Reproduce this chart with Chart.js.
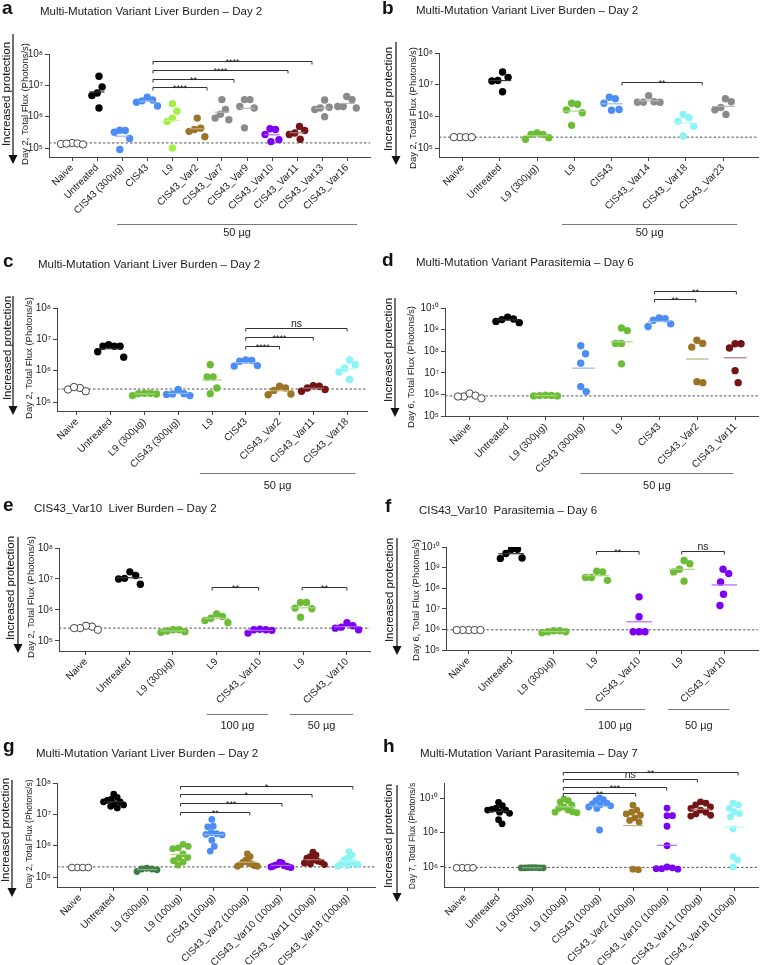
<!DOCTYPE html>
<html>
<head>
<meta charset="utf-8">
<script src="https://cdn.jsdelivr.net/npm/chart.js@4.4.1/dist/chart.umd.min.js"></script>
<style>
  html, body { margin: 0; padding: 0; background: #fff; }
  #wrap { position: relative; width: 763px; height: 965px; overflow: hidden; background: #fff; }
  #wrap canvas { position: absolute; }
</style>
</head>
<body>
<div id="wrap"></div>
<script>
// ---------- data ----------
const protText = 'Increased protection';

// a
const titleA = 'Multi-Mutation Variant Liver Burden \u2013 Day 2';
const yTitleA = 'Day 2, Total Flux (Photons/s)';
const catsA = ['Naive', 'Untreated', 'CIS43 (300µg)', 'CIS43', 'L9', 'CIS43_Var2', 'CIS43_Var7',
  'CIS43_Var9', 'CIS43_Var10', 'CIS43_Var11', 'CIS43_Var13', 'CIS43_Var16'];
const valsA = [
  [1.35e5, 1.45e5, 1.4e5, 1.3e5, 1.38e5],
  [5.7e6, 1.95e7, 1.9e6, 4.7e6, 8.9e6],
  [3.6e5, 2.0e5, 3.7e5, 0.9e5, 3.2e5],
  [2.2e6, 4.2e6, 3.2e6, 2.9e6, 3.4e6],
  [9e5, 1.0e5, 2.6e6, 7e5, 1.5e6],
  [2.3e5, 4.3e5, 9e5, 3.9e5, 3.4e5],
  [1.2e6, 8e5, 3.5e6, 9e5, 1.7e6],
  [2.1e6, 3.5e6, 4.4e5, 1.9e6, 3.5e6],
  [4.1e5, 1.6e5, 2.7e5, 3.9e5, 1.85e5],
  [1.9e5, 3.6e5, 2.7e5, 4.9e5, 3e5],
  [1e6, 2e6, 1.7e6, 3.4e6, 1.9e6],
  [4.4e6, 2.1e6, 1.9e6, 3.5e6, 2.1e6]
];
const lodA = 1.45e5;
const tickExpA = [5, 6, 7, 8];

// b
const titleB = 'Multi-Mutation Variant Liver Burden \u2013 Day 2';
const yTitleB = 'Day 2, Total Flux (Photons/s)';
const catsB = ['Naive', 'Untreated', 'L9 (300µg)', 'L9', 'CIS43', 'CIS43_Var14', 'CIS43_Var18', 'CIS43_Var23'];
const valsB = [
  [2.2e5, 2.2e5, 2.2e5, 2.2e5],
  [1.7e7, 1.35e7, 6e6, 1.3e7, 2.5e7],
  [2.7e5, 2.1e5, 3e5, 2.7e5, 1.9e5],
  [2.4e6, 1.3e6, 2.6e6, 5.2e5, 1.6e6],
  [4e6, 1.55e6, 2.6e6, 3.6e6, 1.65e6],
  [4.5e6, 2.8e6, 2.8e6, 2.9e6, 2.8e6],
  [9e5, 1.15e6, 4.9e5, 2.4e5, 7e5],
  [3.6e6, 1.15e6, 1.9e6, 2.9e6, 1.6e6]
];
const lodB = 2.2e5;
const tickExpB = [5, 6, 7, 8];

// c
const titleC = 'Multi-Mutation Variant Liver Burden \u2013 Day 2';
const yTitleC = 'Day 2, Total Flux (Photons/s)';
const catsC = ['Naive', 'Untreated', 'L9 (300µg)', 'CIS43 (300µg)', 'L9', 'CIS43', 'CIS43_Var2', 'CIS43_Var11', 'CIS43_Var18'];
const valsC = [
  [2.5e5, 2.8e5, 3e5, 2.2e5],
  [6e6, 2.7e6, 6e6, 6e6, 6.8e6, 4e6],
  [1.9e5, 1.9e5, 1.8e5, 1.85e5, 1.6e5],
  [2.5e5, 1.6e5, 1.85e5, 1.75e5, 1.8e5],
  [6.3e5, 1.85e5, 1.55e6, 6.3e5, 2.8e5],
  [1.45e6, 2.2e6, 2.1e6, 1.4e6, 2e6],
  [3.2e5, 1.7e5, 2.8e5, 1.8e5, 2.35e5],
  [2.5e5, 3.3e5, 2.8e5, 3.2e5, 2.2e5],
  [1.55e6, 9e5, 5.2e5, 2.2e6, 1.2e6]
];
const lodC = 2.6e5;
const tickExpC = [5, 6, 7, 8];

// d
const titleD = 'Multi-Mutation Variant Parasitemia \u2013 Day 6';
const yTitleD = 'Day 6, Total Flux (Photons/s)';
const catsD = ['Naive', 'Untreated', 'L9 (300µg)', 'CIS43 (300µg)', 'L9', 'CIS43', 'CIS43_Var2', 'CIS43_Var11'];
const valsD = [
  [8e5, 1.1e6, 8e5, 8.8e5, 6.6e5],
  [2.4e9, 3.8e9, 2.9e9, 3.1e9, 2.1e9],
  [8.5e5, 9e5, 9.2e5, 8.8e5, 8.5e5],
  [1.35e6, 1.8e8, 7.6e7, 2.8e7, 2.3e6],
  [1.2e9, 2.3e8, 2.6e7, 9e8, 2.3e8],
  [3.5e9, 1.4e9, 3.2e9, 1.85e9, 2.7e9],
  [3.2e8, 3.5e6, 1.55e8, 3.9e6, 2.3e8],
  [2.2e8, 1.4e8, 1.26e7, 3.5e6, 2.2e8]
];
const lodD = 8.5e5;
const tickExpD = [5, 6, 7, 8, 9, 10];

// e
const titleE = 'CIS43_Var10  Liver Burden \u2013 Day 2';
const yTitleE = 'Day 2, Total Flux (Photons/s)';
const catsE = ['Naive', 'Untreated', 'L9 (300µg)', 'L9', 'CIS43_Var10', 'L9', 'CIS43_Var10'];
const valsE = [
  [2.9e5, 3.1e5, 2.6e5, 2.6e5, 2.3e5],
  [1.3e7, 6.8e6, 1.05e7, 1.7e7, 1e7],
  [2e5, 2.3e5, 2.3e5, 2.1e5, 1.9e5],
  [7.5e5, 3.9e5, 6.2e5, 4.6e5, 5.4e5],
  [2.2e5, 2.3e5, 2.4e5, 2.3e5, 1.8e5],
  [1.75e6, 1.1e6, 1.75e6, 5.8e5, 1.15e6],
  [2.6e5, 3.9e5, 2.8e5, 3.1e5, 2.3e5]
];
const lodE = 2.6e5;
const tickExpE = [5, 6, 7, 8];

// f
const titleF = 'CIS43_Var10  Parasitemia \u2013 Day 6';
const yTitleF = 'Day 6, Total Flux (Photons/s)';
const catsF = ['Naive', 'Untreated', 'L9 (300µg)', 'L9', 'CIS43_Var10', 'L9', 'CIS43_Var10'];
const valsF = [
  [9.3e5, 9.3e5, 9.3e5, 9.3e5, 9.3e5],
  [7.8e9, 2.8e9, 4.8e9, 7.8e9, 2.9e9],
  [7.7e5, 8.6e5, 8.6e5, 7.7e5, 6.9e5],
  [6.2e8, 2.4e8, 6.6e8, 3.3e8, 3.3e8],
  [7.7e5, 3.8e7, 4.1e6, 7.7e5, 7.7e5],
  [2.2e9, 8.3e8, 2.2e8, 1.55e9, 6.2e8],
  [8.3e8, 2e8, 5.1e7, 1.45e7, 5.1e8]
];
const lodF = 9.5e5;
const tickExpF = [5, 6, 7, 8, 9, 10];

// g
const titleG = 'Multi-Mutation Variant Liver Burden \u2013 Day 2';
const yTitleG = 'Day 2, Total Flux (Photons/s)';
const catsG = ['Naive', 'Untreated', 'L9 (300ug)', 'L9 (100ug)', 'CIS43 (100ug)', 'CIS43_Var2 (100ug)',
  'CIS43_Var10 (100ug)', 'CIS43_Var11 (100ug)', 'CIS43_Var18 (100ug)'];
const valsG = [
  [2e5, 2e5, 2e5, 2e5],
  [4.4e7, 3.5e7, 3e7, 2.8e7, 2.5e7, 2.5e7, 2.2e7, 2e7, 1.8e7, 1.6e7],
  [1.8e5, 1.9e5, 1.7e5, 1.5e5, 1.8e5],
  [1.1e6, 9.5e5, 8e5, 8.5e5, 5.5e5, 4.2e5, 4e5, 3.3e5, 3e5, 2.4e5],
  [6.9e6, 4.2e6, 4e6, 2.6e6, 2.3e6, 2.2e6, 2.4e6, 1.5e6, 9.5e5, 6.7e5],
  [5.5e5, 4.5e5, 3.5e5, 3e5, 2.8e5, 2.6e5, 2.5e5, 2.3e5, 2.2e5, 2.2e5],
  [3e5, 2.8e5, 2.5e5, 2.4e5, 2.3e5, 2.2e5, 2.2e5, 2.1e5, 2.1e5, 2e5],
  [6.2e5, 5e5, 4.5e5, 4e5, 3.5e5, 3.2e5, 3e5, 2.8e5, 2.6e5, 2.5e5],
  [6.5e5, 5e5, 4e5, 3.5e5, 3e5, 2.8e5, 2.6e5, 2.5e5, 2.3e5, 2.2e5]
];
const lodG = 2.1e5;
const tickExpG = [5, 6, 7, 8];

// h
const titleH = 'Multi-Mutation Variant Parasitemia \u2013 Day 7';
const yTitleH = 'Day 7, Total Flux (Photons/s';
const catsH = ['Naive', 'Untreated', 'L9 (300ug)', 'L9 (100ug)', 'CIS43 (100ug)', 'CIS43_Var2 (100ug)',
  'CIS43_Var10 (100ug)', 'CIS43_Var11 (100ug)', 'CIS43_Var18 (100ug)'];
const valsH = [
  [9e5, 9e5, 9e5, 9e5],
  [5.6e9, 3.6e9, 2.6e9, 2.2e9, 2e9, 2e9, 1.5e9, 1.3e9, 5.5e8, 3.2e8],
  [9e5, 9.3e5, 8.8e5, 9.1e5, 9e5, 8.9e5, 9.2e5],
  [9e9, 7e9, 6e9, 4e9, 3e9, 2.5e9, 2e9, 1.6e9, 1.5e9, 1.4e9],
  [1e10, 8e9, 7e9, 5e9, 4.5e9, 4e9, 3.5e9, 3e9, 2.5e9, 1.4e8],
  [3.9e9, 2e9, 1.5e9, 1.2e9, 1e9, 7e8, 5e8, 4e8, 7e5, 7.5e5],
  [2.6e9, 9.5e8, 9.5e8, 2.3e8, 1.7e7, 1e6, 9e5, 8e5, 8e5, 7.5e5],
  [6e9, 5e9, 4e9, 3e9, 2.5e9, 2e9, 1.5e9, 1.2e9, 1e9, 9e8],
  [5e9, 4e9, 2.5e9, 1.6e9, 1.25e9, 8e8, 1.6e8, 4e6, 2.5e6, 1e6]
];
const lodH = 9.5e5;
const tickExpH = [6, 8, 10];

// ---------- styles ----------
const FONT = "'Liberation Sans', Arial, Helvetica, sans-serif";
Chart.defaults.font.family = FONT;
Chart.defaults.color = '#222';

const OPEN = 'open', BLACK = '#000000', BLUE = '#4b8cf5', LIME = '#a6ee48', GREEN = '#6cbd35',
  BROWN = '#9c7426', GRAY = '#8a8a8a', PURPLE = '#7d00f5', DRED = '#741414', CYAN = '#8cf3f6',
  DGREEN = '#3f7d45';

// swarm: [horizontal spacing px, vertical reach px, max half width px]
const panels = [
  { box: [0, 0, 380, 245], area: [49, 370, 54, 157], yLog: [4.713, 8], xRange: [-0.92, 11.92],
    cats: catsA, vals: valsA, lod: lodA, ticks: tickExpA,
    colors: [OPEN, BLACK, BLUE, BLUE, LIME, BROWN, GRAY, GRAY, PURPLE, DRED, GRAY, GRAY],
    letter: 'a', letterPos: [2, 14], title: titleA, titlePos: [40, 14.5],
    yTitle: yTitleA, yTitlePos: [25, 104], yTitleSize: 9.5,
    arrow: { tx: 7, ty: 94, x: 13, top: 34, tip: 164 },
    brackets: [[3.24, 5.4, 6.95, '****'], [3.24, 6.48, 7.2, '**'], [3.24, 8.64, 7.49, '****'], [3.24, 9.6, 7.78, '****']],
    groups: [[1.8, 11.4, '50 µg']], gLine: 67, gText: 79, r: 3.7, swarm: [5.5, 13, 11] },
  { box: [380, 0, 383, 245], area: [439, 760, 53, 157], yLog: [4.716, 8], xRange: [-0.64, 7.94],
    cats: catsB, vals: valsB, lod: lodB, ticks: tickExpB,
    colors: [OPEN, BLACK, GREEN, GREEN, BLUE, GRAY, CYAN, GRAY],
    letter: 'b', letterPos: [382, 14], title: titleB, titlePos: [416, 14],
    yTitle: yTitleB, yTitlePos: [413, 108], yTitleSize: 9.5,
    arrow: { tx: 389, ty: 99, x: 396, top: 42, tip: 165 },
    brackets: [[4.28, 6.44, 7.08, '**']],
    groups: [[2.67, 7.38, '50 µg']], gLine: 67, gText: 79, r: 3.7, swarm: [6, 14, 13] },
  { box: [0, 240, 380, 252], area: [57, 367, 308, 411], yLog: [4.713, 8], xRange: [-0.59, 8.59],
    cats: catsC, vals: valsC, lod: lodC, ticks: tickExpC,
    colors: [OPEN, BLACK, GREEN, BLUE, GREEN, BLUE, BROWN, DRED, CYAN],
    letter: 'c', letterPos: [3, 267], title: titleC, titlePos: [38, 268],
    yTitle: yTitleC, yTitlePos: [29, 358], yTitleSize: 9.5,
    arrow: { tx: 8, ty: 348, x: 13, top: 296, tip: 415 },
    brackets: [[5, 6, 6.79, '****'], [5, 7, 7.07, '****'], [5, 8, 7.36, 'ns']],
    groups: [[3.64, 8.24, '50 µg']], gLine: 62, gText: 78, r: 3.7, swarm: [6, 14, 13] },
  { box: [380, 240, 383, 252], area: [445, 762, 308, 416], yLog: [5, 10], xRange: [-0.65, 7.6],
    cats: catsD, vals: valsD, lod: lodD, ticks: tickExpD,
    colors: [OPEN, BLACK, GREEN, BLUE, GREEN, BLUE, BROWN, DRED],
    letter: 'd', letterPos: [382, 266], title: titleD, titlePos: [416, 266],
    yTitle: yTitleD, yTitlePos: [411, 367], yTitleSize: 9.5,
    arrow: { tx: 389, ty: 350, x: 395, top: 298, tip: 417 },
    brackets: [[4.87, 5.96, 10.42, '**'], [4.87, 7.03, 10.79, '**']],
    groups: [[2.92, 6.95, '50 µg']], gLine: 57, gText: 73, r: 3.7, swarm: [6, 14, 13] },
  { box: [0, 480, 380, 252], area: [59, 370, 548, 651], yLog: [4.677, 8], xRange: [-0.62, 6.53],
    cats: catsE, vals: valsE, lod: lodE, ticks: tickExpE,
    colors: [OPEN, BLACK, GREEN, GREEN, PURPLE, GREEN, PURPLE],
    letter: 'e', letterPos: [3, 511], title: titleE, titlePos: [34, 512],
    yTitle: yTitleE, yTitlePos: [31, 597], yTitleSize: 9.5,
    arrow: { tx: 11, ty: 588, x: 18, top: 537, tip: 653 },
    brackets: [[2.9, 3.97, 6.74, '**'], [4.97, 6.0, 6.74, '**']],
    groups: [[2.78, 4.18, '100 µg'], [4.69, 6.14, '50 µg']], gLine: 63, gText: 78, r: 3.7, swarm: [6, 14, 13] },
  { box: [380, 480, 383, 252], area: [446, 762, 547, 650], yLog: [5, 10], xRange: [-0.53, 6.79],
    cats: catsF, vals: valsF, lod: lodF, ticks: tickExpF,
    colors: [OPEN, BLACK, GREEN, GREEN, PURPLE, GREEN, PURPLE],
    letter: 'f', letterPos: [385, 512], title: titleF, titlePos: [419, 514],
    yTitle: yTitleF, yTitlePos: [416, 600], yTitleSize: 9.5,
    arrow: { tx: 390, ty: 590, x: 397, top: 538, tip: 655 },
    brackets: [[3, 4, 9.8, '**'], [5, 6, 9.8, 'ns']],
    groups: [[2.73, 4.14, '100 µg'], [4.68, 6.12, '50 µg']], gLine: 59, gText: 79, r: 3.7, swarm: [6, 14, 13] },
  { box: [0, 720, 380, 245], area: [57, 375, 783, 887], yLog: [4.681, 8], xRange: [-0.69, 8.81],
    cats: catsG, vals: valsG, lod: lodG, ticks: tickExpG,
    colors: [OPEN, BLACK, DGREEN, GREEN, BLUE, BROWN, PURPLE, DRED, CYAN],
    letter: 'g', letterPos: [3, 752], title: titleG, titlePos: [36, 757],
    yTitle: yTitleG, yTitlePos: [30, 834], yTitleSize: 8.5,
    arrow: { tx: 6, ty: 830, x: 12, top: 780, tip: 897 },
    brackets: [[3, 5.07, 7.07, '**'], [3, 6.03, 7.36, '***'], [3, 6.93, 7.65, '*'], [3, 8.15, 7.9, '*']],
    groups: [], gLine: 0, gText: 0, r: 3.4, swarm: [5.5, 7, 10] },
  { box: [380, 720, 383, 245], area: [444, 760, 783, 887], yLog: [4.84, 10.87], xRange: [-0.62, 8.7],
    cats: catsH, vals: valsH, lod: lodH, ticks: tickExpH,
    colors: [OPEN, BLACK, DGREEN, GREEN, BLUE, BROWN, PURPLE, DRED, CYAN],
    letter: 'h', letterPos: [383, 752], title: titleH, titlePos: [420, 757],
    yTitle: yTitleH, yTitlePos: [413, 836], yTitleSize: 8.5,
    arrow: { tx: 389, ty: 836, x: 397, top: 785, tip: 902 },
    brackets: [[2.92, 5.07, 10.29, '**'], [2.92, 5.99, 10.64, '***'], [2.92, 6.9, 11.1, 'ns'], [2.92, 8.11, 11.51, '**']],
    groups: [], gLine: 0, gText: 0, r: 3.4, swarm: [5.5, 7, 11] }
];

// ---------- helpers ----------
const SUP = { '0': '\u2070', '1': '\u00b9', '2': '\u00b2', '3': '\u00b3', '4': '\u2074', '5': '\u2075',
  '6': '\u2076', '7': '\u2077', '8': '\u2078', '9': '\u2079' };
const pow10Label = e => '10' + String(e).split('').map(c => SUP[c]).join('');

function lighten(hex, t) {
  const n = parseInt(hex.slice(1), 16);
  const f = c => Math.round(c + (255 - c) * t);
  return `rgb(${f(n >> 16)},${f((n >> 8) & 255)},${f(n & 255)})`;
}

const gmean = vals => Math.pow(10, vals.reduce((s, v) => s + Math.log10(v), 0) / vals.length);

// beeswarm with an elliptical footprint: points spread sideways when they sit close in y,
// then the whole group is squeezed so it never gets wider than maxHalf on either side
function swarm(vals, toPix, ax, ay, maxHalf) {
  const order = vals.map((v, i) => i).sort((a, b) => vals[b] - vals[a]);
  const placed = [];
  const offs = new Array(vals.length).fill(0);
  const hit = (px, py, x, y) => ((px - x) / ax) ** 2 + ((py - y) / ay) ** 2 < 0.999;
  order.forEach(i => {
    const y = toPix(vals[i]);
    const cands = [0];
    placed.forEach(p => {
      const dy = Math.abs(p.y - y);
      if (dy < ay) {
        const dx = ax * Math.sqrt(1 - (dy / ay) ** 2);
        cands.push(p.x + dx, p.x - dx);
      }
    });
    cands.sort((a, b) => Math.abs(a) - Math.abs(b));
    const x = cands.find(c => placed.every(p => !hit(p.x, p.y, c, y)));
    placed.push({ x, y });
    offs[i] = x;
  });
  const lo = Math.min(...offs), hi = Math.max(...offs);
  const mid = (lo + hi) / 2, half = (hi - lo) / 2;
  const k = half > maxHalf ? maxHalf / half : 1;
  return offs.map(o => (o - mid) * k);
}

const wrap = document.getElementById('wrap');
const YW = 40;

function drawPanel(p) {
  const [bx, by, bw, bh] = p.box;
  const [L, R, T, B] = p.area;
  const canvas = document.createElement('canvas');
  canvas.width = bw; canvas.height = bh;
  canvas.style.left = bx + 'px'; canvas.style.top = by + 'px';
  canvas.style.width = bw + 'px'; canvas.style.height = bh + 'px';
  wrap.appendChild(canvas);

  const [lmin, lmax] = p.yLog;
  const toPix = v => B - (Math.log10(v) - lmin) / (lmax - lmin) * (B - T);
  const ppu = (R - L) / (p.xRange[1] - p.xRange[0]);

  const datasets = [{
    data: [{ x: p.xRange[0], y: p.lod }, { x: p.xRange[1], y: p.lod }],
    showLine: true, borderColor: '#555', borderWidth: 1, borderDash: [2.5, 2],
    pointRadius: 0, order: 3
  }];
  p.vals.forEach((vals, i) => {
    const col = p.colors[i];
    const open = col === OPEN;
    const offs = swarm(vals, toPix, p.swarm[0], p.swarm[1], p.swarm[2]);
    datasets.push({
      data: vals.map((v, k) => ({ x: i + offs[k] / ppu, y: v })),
      pointRadius: p.r, pointBackgroundColor: open ? '#fff' : col,
      pointBorderColor: open ? '#444' : col, pointBorderWidth: open ? 1 : 0, order: 2
    });
    if (!open) {
      const g = gmean(vals);
      datasets.push({
        data: [{ x: i - 0.3, y: g }, { x: i + 0.3, y: g }],
        showLine: true, pointRadius: 0, borderWidth: 1.2,
        borderColor: col === BLACK ? '#333' : lighten(col, 0.4), order: 1
      });
    }
  });

  const deco = {
    id: 'deco',
    afterDraw(chart) {
      const ctx = chart.ctx, xs = chart.scales.x, ys = chart.scales.y;
      ctx.save();
      ctx.fillStyle = '#111';
      ctx.strokeStyle = '#111';
      ctx.textAlign = 'left';
      ctx.textBaseline = 'alphabetic';
      ctx.font = `bold 19px ${FONT}`;
      ctx.fillText(p.letter, p.letterPos[0] - bx, p.letterPos[1] - by);
      ctx.font = `11.5px ${FONT}`;
      ctx.fillStyle = '#1a1a1a';
      ctx.fillText(p.title, p.titlePos[0] - bx, p.titlePos[1] - by);

      // y axis title
      ctx.save();
      ctx.translate(p.yTitlePos[0] - bx, p.yTitlePos[1] - by);
      ctx.rotate(-Math.PI / 2);
      ctx.textAlign = 'center'; ctx.textBaseline = 'middle';
      ctx.font = `${p.yTitleSize}px ${FONT}`;
      ctx.fillText(p.yTitle, 0, 0);
      ctx.restore();

      // "Increased protection" + arrow
      const a = p.arrow;
      ctx.save();
      ctx.translate(a.tx - bx, a.ty - by);
      ctx.rotate(-Math.PI / 2);
      ctx.textAlign = 'center'; ctx.textBaseline = 'middle';
      ctx.font = `11.5px ${FONT}`;
      ctx.fillStyle = '#111';
      ctx.fillText(protText, 0, 0);
      ctx.restore();
      ctx.lineWidth = 1.2;
      ctx.beginPath();
      ctx.moveTo(a.x - bx, a.top - by);
      ctx.lineTo(a.x - bx, a.tip - 7 - by);
      ctx.stroke();
      ctx.beginPath();
      ctx.moveTo(a.x - 4.5 - bx, a.tip - 9 - by);
      ctx.lineTo(a.x + 4.5 - bx, a.tip - 9 - by);
      ctx.lineTo(a.x - bx, a.tip - by);
      ctx.closePath();
      ctx.fillStyle = '#111';
      ctx.fill();

      // significance brackets
      ctx.strokeStyle = '#333';
      ctx.lineWidth = 1;
      ctx.textAlign = 'center';
      p.brackets.forEach(b => {
        const x1 = xs.getPixelForValue(b[0]), x2 = xs.getPixelForValue(b[1]);
        const y = Math.round(ys.getPixelForValue(Math.pow(10, b[2]))) + 0.5;
        ctx.beginPath();
        ctx.moveTo(x1, y + 3); ctx.lineTo(x1, y); ctx.lineTo(x2, y); ctx.lineTo(x2, y + 3);
        ctx.stroke();
        ctx.fillStyle = '#222';
        if (b[3] === 'ns') {
          ctx.font = `10.5px ${FONT}`;
          ctx.fillText('ns', (x1 + x2) / 2, y - 1.5);
        } else {
          ctx.font = `9px ${FONT}`;
          ctx.fillText(b[3], (x1 + x2) / 2, y + 3.5);
        }
      });

      // dose group underlines
      const bottom = chart.chartArea.bottom;
      p.groups.forEach(g => {
        const x1 = xs.getPixelForValue(g[0]), x2 = xs.getPixelForValue(g[1]);
        const y = Math.round(bottom + p.gLine) + 0.5;
        ctx.strokeStyle = '#777';
        ctx.beginPath(); ctx.moveTo(x1, y); ctx.lineTo(x2, y); ctx.stroke();
        ctx.fillStyle = '#222';
        ctx.font = `11px ${FONT}`;
        ctx.fillText(g[2], (x1 + x2) / 2, bottom + p.gText);
      });
      ctx.restore();
    }
  };

  new Chart(canvas, {
    type: 'scatter',
    data: { datasets },
    plugins: [deco],
    options: {
      responsive: false, animation: false, events: [], devicePixelRatio: 1,
      layout: { padding: { left: L - bx - YW, top: T - by, right: bx + bw - R, bottom: 0 } },
      plugins: { legend: { display: false }, tooltip: { enabled: false } },
      scales: {
        x: {
          type: 'linear', min: p.xRange[0], max: p.xRange[1],
          afterBuildTicks: s => { s.ticks = p.cats.map((c, i) => ({ value: i })); },
          afterFit: s => { s.height = by + bh - B; },
          ticks: { autoSkip: false, minRotation: 45, maxRotation: 45, padding: 1,
            font: { size: 10 }, color: '#222', callback: v => p.cats[v] },
          grid: { drawOnChartArea: false, drawTicks: true, tickLength: 4, color: '#444' },
          border: { display: true, color: '#444', width: 1 }
        },
        y: {
          type: 'logarithmic', min: Math.pow(10, lmin), max: Math.pow(10, lmax),
          afterBuildTicks: s => { s.ticks = p.ticks.map(e => ({ value: Math.pow(10, e) })); },
          afterFit: s => { s.width = YW; },
          ticks: { padding: 2, font: { size: 10 }, color: '#222',
            callback: v => pow10Label(Math.round(Math.log10(v))) },
          grid: { drawOnChartArea: false, drawTicks: true, tickLength: 4, color: '#444' },
          border: { display: true, color: '#444', width: 1 }
        }
      }
    }
  });
}

panels.forEach(drawPanel);
</script>
</body>
</html>
